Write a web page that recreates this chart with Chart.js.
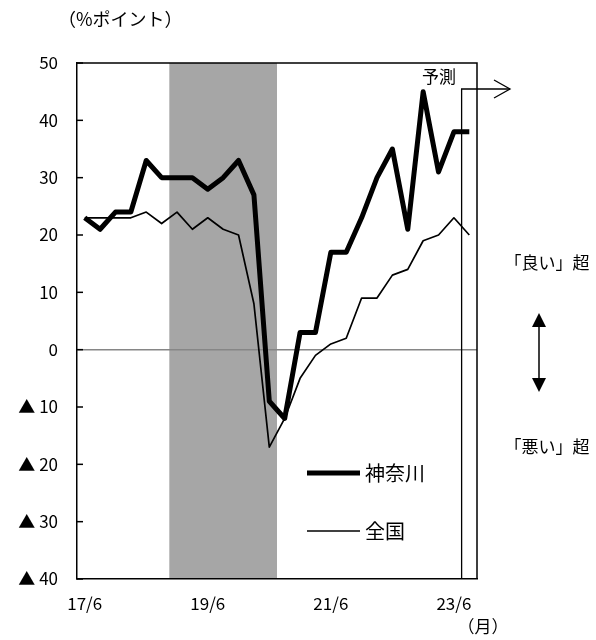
<!DOCTYPE html>
<html>
<head>
<meta charset="utf-8">
<script src="https://cdn.jsdelivr.net/npm/chart.js@4/dist/chart.umd.min.js"></script>
<style>
  body { margin: 0; background: #fff; }
  #wrap { width: 596px; height: 640px; position: relative; }
</style>
</head>
<body>
<div id="wrap"><canvas id="chart"></canvas></div>
<script>
const months = [
  "17/6", "17/9", "17/12", "18/3", "18/6", "18/9", "18/12", "19/3", "19/6",
  "19/9", "19/12", "20/3", "20/6", "20/9", "20/12", "21/3", "21/6", "21/9",
  "21/12", "22/3", "22/6", "22/9", "22/12", "23/3", "23/6", "23/9"
];
const kanagawa = [23, 21, 24, 24, 33, 30, 30, 30, 28, 30, 33, 27, -9, -12, 3, 3, 17, 17, 23, 30, 35, 21, 45, 31, 38, 38];
const national = [23, 23, 23, 23, 24, 22, 24, 21, 23, 21, 20, 8, -17, -12, -5, -1, 1, 2, 9, 9, 13, 14, 19, 20, 23, 20];
const xTickLabels = ["17/6", "19/6", "21/6", "23/6"];
const seriesNames = ["神奈川", "全国"];
const recession = ["18/12", "20/6"];
const lastActual = "23/6";

const font = "'Noto Sans CJK JP', 'Noto Sans', sans-serif";

function catIndex(label) {
  return months.indexOf(label);
}

const overlay = {
  id: "overlay",
  beforeDraw(chart) {
    const ctx = chart.ctx;
    const area = chart.chartArea;
    const x = chart.scales.x;
    const x1 = x.getPixelForValue(catIndex(recession[0]) - 0.5);
    const x2 = x.getPixelForValue(catIndex(recession[1]) + 0.5);
    ctx.save();
    ctx.fillStyle = "#a6a6a6";
    ctx.fillRect(x1, area.top, x2 - x1, area.bottom - area.top);
    ctx.restore();
  },
  afterDatasetsDraw(chart) {
    const ctx = chart.ctx;
    const area = chart.chartArea;
    const x = chart.scales.x;
    const y = chart.scales.y;
    ctx.save();
    ctx.strokeStyle = "#000";
    ctx.lineWidth = 1.5;
    ctx.beginPath();
    ctx.moveTo(area.left, area.top);
    ctx.lineTo(area.right, area.top);
    ctx.lineTo(area.right, area.bottom);
    ctx.stroke();

    // inner ticks on y axis
    y.ticks.forEach(t => {
      const py = y.getPixelForValue(t.value);
      ctx.beginPath();
      ctx.moveTo(area.left, py);
      ctx.lineTo(area.left + 6, py);
      ctx.stroke();
    });

    // forecast line and arrow
    const fx = x.getPixelForValue(catIndex(lastActual) + 0.5);
    const fy = 89;
    ctx.lineWidth = 1.3;
    ctx.beginPath();
    ctx.moveTo(fx, area.bottom);
    ctx.lineTo(fx, fy);
    ctx.lineTo(510, fy);
    ctx.stroke();
    ctx.beginPath();
    ctx.moveTo(494, fy - 9);
    ctx.lineTo(510, fy);
    ctx.lineTo(494, fy + 9);
    ctx.stroke();
    ctx.restore();
  },
  afterDraw(chart) {
    const ctx = chart.ctx;
    ctx.save();
    ctx.fillStyle = "#000";
    ctx.textBaseline = "middle";

    ctx.font = "18px " + font;
    ctx.textAlign = "left";
    ctx.fillText("（%ポイント）", 58, 19);

    ctx.font = "17px " + font;
    ctx.textAlign = "center";
    ctx.fillText("予測", 439, 77);
    ctx.fillText("（月）", 483, 627);
    ctx.fillText("「良い」超", 547, 263);
    ctx.fillText("「悪い」超", 547, 447);

    // double arrow
    ctx.strokeStyle = "#000";
    ctx.lineWidth = 1.5;
    ctx.beginPath();
    ctx.moveTo(539, 318);
    ctx.lineTo(539, 388);
    ctx.stroke();
    ctx.beginPath();
    ctx.moveTo(539, 313);
    ctx.lineTo(532, 327);
    ctx.lineTo(546, 327);
    ctx.closePath();
    ctx.fill();
    ctx.beginPath();
    ctx.moveTo(539, 392);
    ctx.lineTo(532, 378);
    ctx.lineTo(546, 378);
    ctx.closePath();
    ctx.fill();

    // legend
    const rows = [473, 531];
    ctx.textAlign = "left";
    ctx.font = "20px " + font;
    chart.data.datasets.forEach((ds, i) => {
      ctx.lineWidth = ds.borderWidth;
      ctx.beginPath();
      ctx.moveTo(307, rows[i]);
      ctx.lineTo(360, rows[i]);
      ctx.stroke();
      ctx.fillText(ds.label, 365, rows[i]);
    });
    ctx.restore();
  }
};

new Chart(document.getElementById("chart"), {
  type: "line",
  data: {
    labels: months,
    datasets: [
      {
        label: seriesNames[0],
        data: kanagawa,
        borderColor: "#000",
        borderWidth: 5,
        pointRadius: 0,
        tension: 0,
        borderJoinStyle: "round"
      },
      {
        label: seriesNames[1],
        data: national,
        borderColor: "#000",
        borderWidth: 1.7,
        pointRadius: 0,
        tension: 0,
        borderJoinStyle: "round"
      }
    ]
  },
  options: {
    responsive: true,
    maintainAspectRatio: false,
    animation: false,
    layout: { padding: { top: 63, right: 119, left: 0, bottom: 0 } },
    plugins: {
      legend: { display: false },
      tooltip: { enabled: false }
    },
    scales: {
      x: {
        type: "category",
        offset: true,
        grid: { display: false, drawTicks: false },
        border: { display: true, color: "#000", width: 1.5 },
        ticks: {
          autoSkip: false,
          maxRotation: 0,
          padding: 14,
          color: "#000",
          font: { family: font, size: 17 },
          callback: (v, i) => xTickLabels.includes(months[i]) ? months[i] : ""
        },
        afterFit: s => { s.height = 61; }
      },
      y: {
        min: -40,
        max: 50,
        grid: {
          drawTicks: false,
          color: c => c.tick.value === 0 ? "#868686" : "rgba(0,0,0,0)",
          lineWidth: 1.5
        },
        border: { display: true, color: "#000", width: 1.5 },
        ticks: {
          stepSize: 10,
          padding: 19,
          color: "#000",
          font: { family: font, size: 17 },
          callback: v => v < 0 ? "▲ " + (-v) : String(v)
        },
        afterFit: s => { s.width = 77; }
      }
    }
  },
  plugins: [overlay]
});
</script>
</body>
</html>
